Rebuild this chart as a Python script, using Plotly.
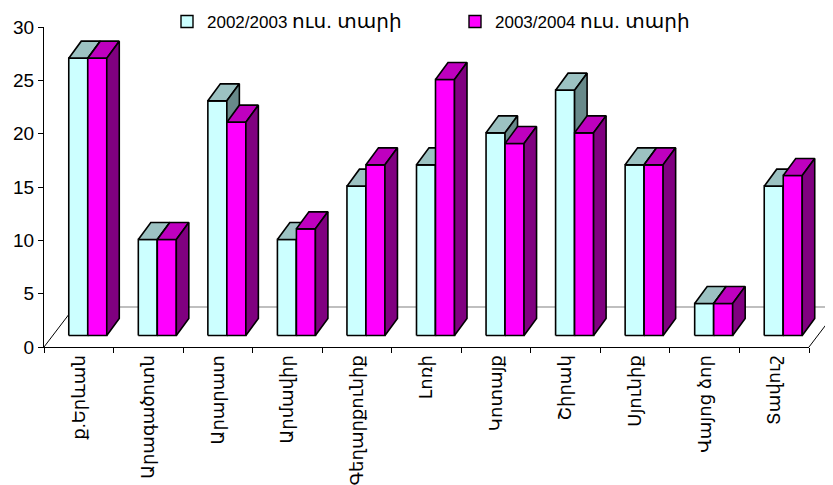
import plotly.graph_objects as go

# ---------------- data ----------------
categories = ["ք.Երևան", "Արագածոտն", "Արարատ", "Արմավիր", "Գեղարքունիք", "Լոռի",
              "Կոտայք", "Շիրակ", "Սյունիք", "Վայոց ձոր", "Տավուշ"]
series_years = ["2002/2003", "2003/2004"]
series_suffix = "ուս. տարի"
values_2002_2003 = [26, 9, 22, 9, 14, 16, 19, 23, 16, 3, 14]
values_2003_2004 = [26, 9, 20, 10, 16, 24, 18, 19, 16, 3, 15]
y_ticks = [0, 5, 10, 15, 20, 25, 30]

# ---------------- style / geometry ----------------
# the page body has an 8px margin, so the figure is 8px smaller and shifted
OFF = 8
W, H = 833 - OFF, 485 - OFF
PLOT_L, PLOT_T, PLOT_B = 44, 27, 347           # target page pixels
ML, MR, MT = PLOT_L - OFF, 0, PLOT_T - OFF
PLOT_H = PLOT_B - PLOT_T
MB = H - MT - PLOT_H
AXIS_W = 765                      # pixel width of the category axis
N = len(categories)
Y_MAX = 30
PAPER_W = W - ML - MR
SX = AXIS_W / N                   # px per category unit
SY = PLOT_H / Y_MAX               # px per value unit

BAR_W = 19 / SX                   # bar width (category units)
GAP_DX, GAP_DY = 9 / SX, 11.5 / SY      # front gap (depth lift) of bars
BAR_DX, BAR_DY = 12.5 / SX, 17 / SY     # bar depth
FLOOR_DX, FLOOR_DY = 30.5 / SX, 40 / SY  # floor depth

FONT = "Liberation Sans, Arial, DejaVu Sans, sans-serif"
colors = [
    {"front": "#CCFFFF", "top": "#9CC2C2", "side": "#688A8A"},
    {"front": "#FF00FF", "top": "#BF00BF", "side": "#800080"},
]
OUTLINE = dict(color="black", width=1.6)


def bar_polys(vals, k):
    front_x, front_y, top_x, top_y, side_x, side_y = [], [], [], [], [], []
    for i, v in enumerate(vals):
        x0 = i + GAP_DX + (k - 1) * BAR_W
        x1 = x0 + BAR_W
        yb = GAP_DY
        yt = GAP_DY + v
        front_x += [x0, x1, x1, x0, x0, None]
        front_y += [yb, yb, yt, yt, yb, None]
        top_x += [x0, x1, x1 + BAR_DX, x0 + BAR_DX, x0, None]
        top_y += [yt, yt, yt + BAR_DY, yt + BAR_DY, yt, None]
        side_x += [x1, x1 + BAR_DX, x1 + BAR_DX, x1, x1, None]
        side_y += [yb, yb + BAR_DY, yt + BAR_DY, yt, yb, None]
    return (front_x, front_y), (top_x, top_y), (side_x, side_y)


fig = go.Figure()

# invisible trace so the category axis knows its categories
fig.add_trace(go.Scatter(x=categories, y=[0] * N, mode="markers",
                         marker=dict(opacity=0), showlegend=False,
                         hoverinfo="skip", xaxis="x", yaxis="y"))

# floor (drawn on the wider overlay axes)
x_l, x_r = -0.5, N - 0.5
fig.add_trace(go.Scatter(x=[x_l + FLOOR_DX, x_r + FLOOR_DX], y=[FLOOR_DY, FLOOR_DY],
                         mode="lines", line=dict(color="#808080", width=1.2),
                         showlegend=False, hoverinfo="skip", xaxis="x2", yaxis="y2"))
fig.add_trace(go.Scatter(x=[x_l, x_l + FLOOR_DX, None, x_r, x_r + FLOOR_DX],
                         y=[0, FLOOR_DY, None, 0, FLOOR_DY],
                         mode="lines", line=dict(color="black", width=1),
                         showlegend=False, hoverinfo="skip", xaxis="x2", yaxis="y2"))

# bars
for k, vals in enumerate([values_2002_2003, values_2003_2004]):
    polys = bar_polys(vals, k)
    for (px, py), face in zip(polys, ["front", "top", "side"]):
        fig.add_trace(go.Scatter(x=px, y=py, mode="lines", fill="toself",
                                 fillcolor=colors[k][face], line=OUTLINE,
                                 showlegend=False, hoverinfo="skip",
                                 xaxis="x2", yaxis="y2"))

# legend entries
for k, year in enumerate(series_years):
    name = f"{year} <span style='font-size:20px'>{series_suffix}</span>"
    fig.add_trace(go.Scatter(x=[None], y=[None], mode="markers", name=name,
                             marker=dict(symbol="square", size=12,
                                         color=colors[k]["front"],
                                         line=dict(color="black", width=1.4)),
                             xaxis="x", yaxis="y"))

fig.update_layout(
    width=W, height=H,
    margin=dict(l=ML, r=MR, t=MT, b=MB, pad=0, autoexpand=False),
    paper_bgcolor="white", plot_bgcolor="rgba(0,0,0,0)",
    font=dict(family=FONT, size=16, color="black"),
    showlegend=True,
    legend=dict(orientation="h", x=(167 - PLOT_L) / PAPER_W, xanchor="left",
                y=1 + 5 / PLOT_H, yanchor="middle",
                font=dict(size=17), entrywidth=243, entrywidthmode="pixels",
                bgcolor="rgba(0,0,0,0)", itemclick=False),
    xaxis=dict(type="category", categoryorder="array", categoryarray=categories,
               range=[-0.5, N - 0.5], domain=[0, AXIS_W / PAPER_W],
               tickson="boundaries", ticks="outside", ticklen=5, tickcolor="black",
               showline=True, linecolor="black", linewidth=1,
               showgrid=False, zeroline=False, tickangle=-90,
               tickfont=dict(size=18), anchor="y", fixedrange=True,
               automargin=False),
    yaxis=dict(range=[0, Y_MAX], tickvals=y_ticks, ticks="outside", ticklen=5,
               tickcolor="black", showline=True, linecolor="black", linewidth=1,
               showgrid=False, zeroline=False, tickfont=dict(size=19),
               anchor="x", domain=[0, 1], fixedrange=True, automargin=False),
    xaxis2=dict(range=[-0.5, -0.5 + PAPER_W / SX], domain=[0, 1], visible=False,
                anchor="y2", fixedrange=True),
    yaxis2=dict(range=[0, Y_MAX], domain=[0, 1], visible=False, anchor="x2",
                fixedrange=True),
)

fig.write_html("out.html")
